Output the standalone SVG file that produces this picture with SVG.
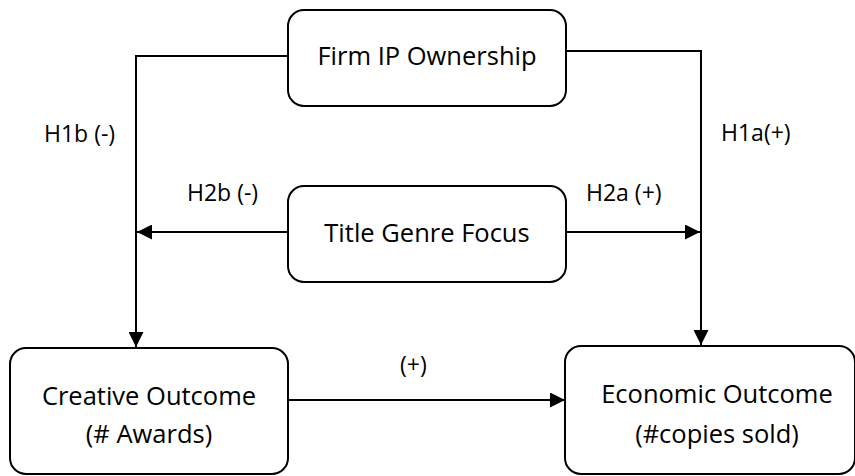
<svg xmlns="http://www.w3.org/2000/svg" width="855" height="476" viewBox="0 0 855 476">
<style>
.box{fill:#fff;stroke:#000;stroke-width:2}
.t{font-family:"Open Sans","DejaVu Sans",sans-serif;font-size:25.5px;fill:#000;text-anchor:middle}
.l{font-family:"Open Sans","DejaVu Sans",sans-serif;font-size:23px;fill:#000}
.c{fill:none;stroke:#000;stroke-width:2}
</style>
<defs>
<marker id="ah" viewBox="0 0 10 10" refX="10" refY="5" markerWidth="15" markerHeight="15" markerUnits="userSpaceOnUse" orient="auto">
<path d="M0,0 L10,5 L0,10 z" fill="#000"/>
</marker>
</defs>
<rect width="855" height="476" fill="#fff"/>
<g id="connectors">
<polyline class="c" points="288,56 136,56 136,347" marker-end="url(#ah)"/>
<polyline class="c" points="566,51 701,51 701,345" marker-end="url(#ah)"/>
<line class="c" x1="288" y1="232" x2="137" y2="232" marker-end="url(#ah)"/>
<line class="c" x1="566" y1="232" x2="700" y2="232" marker-end="url(#ah)"/>
<line class="c" x1="288" y1="400" x2="565" y2="400" marker-end="url(#ah)"/>
<text class="l" x="44" y="142">H1b (-)</text>
<text class="l" x="721" y="141">H1a(+)</text>
<text class="l" x="187" y="201">H2b (-)</text>
<text class="l" x="586" y="201">H2a (+)</text>
<text class="l" x="400" y="373">(+)</text>
</g>
<g id="firm-ip">
<rect class="box" x="288" y="10" width="278" height="96" rx="16"/>
<text class="t" x="427" y="65">Firm IP Ownership</text>
</g>
<g id="title-genre">
<rect class="box" x="288" y="186" width="278" height="96" rx="16"/>
<text class="t" x="427" y="242">Title Genre Focus</text>
</g>
<g id="creative">
<rect class="box" x="10" y="348" width="278" height="126" rx="16"/>
<text class="t" x="149" y="405">Creative Outcome</text>
<text class="t" x="149" y="443">(# Awards)</text>
</g>
<g id="economic">
<rect class="box" x="565" y="346" width="290" height="128" rx="16"/>
<text class="t" x="717" y="403">Economic Outcome</text>
<text class="t" x="717" y="443">(#copies sold)</text>
</g>
</svg>
